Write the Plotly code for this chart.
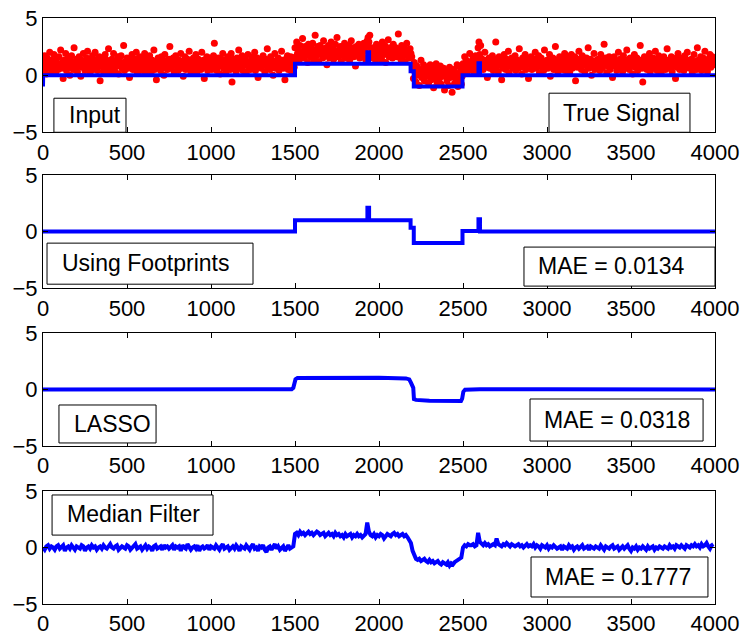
import numpy as np
import plotly.graph_objects as go

# ---------------------------------------------------------------------------
# Data
# ---------------------------------------------------------------------------
# Noisy input samples, one every INPUT_STEP samples (0 .. 3995)
INPUT_STEP = 5
input_seg_a = [  # samples 0 .. 1495
    1.2,0.4,1.7,0.9,0.1,1.5,1.1,0.6,2.0,0.8,1.3,0.3,1.0,1.8,0.7,0.2,1.4,1.0,0.5,1.6,
    0.9,2.2,0.6,1.1,-0.3,1.3,0.8,1.9,0.4,1.0,1.5,0.7,0.0,1.2,1.7,0.9,0.5,2.4,1.1,0.6,
    1.4,0.3,0.8,1.6,1.0,-0.1,1.3,0.7,1.9,1.2,0.4,0.9,1.5,2.1,0.6,1.0,0.2,1.4,0.8,1.7,
    0.5,1.1,2.0,0.7,1.3,0.4,0.9,1.6,-0.5,1.2,0.8,1.5,0.3,1.0,1.8,0.6,1.3,0.9,2.3,0.2,
    1.1,0.7,1.4,0.5,1.9,1.0,0.3,1.2,0.8,1.6,0.1,1.3,0.9,1.7,0.6,1.0,2.6,0.4,1.2,0.8,
    1.5,0.6,1.0,-0.2,1.3,0.9,1.8,0.5,1.1,0.7,1.4,2.0,0.3,1.0,0.8,1.6,0.4,1.2,0.9,1.5,
    0.7,1.9,0.2,1.1,1.4,0.6,1.0,1.7,0.8,0.3,1.3,0.9,2.2,0.5,1.2,-0.4,1.0,1.5,0.7,1.1,
    0.4,1.6,0.9,1.3,0.0,1.8,0.7,1.2,0.5,1.0,1.4,2.5,0.6,1.1,0.8,1.5,0.3,0.9,1.7,1.2,
    0.8,0.4,1.3,1.0,1.9,0.6,1.2,-0.1,0.9,1.6,0.5,1.1,1.4,0.7,2.1,1.0,0.3,1.3,0.8,1.5,
    1.1,0.6,1.8,0.2,1.0,1.4,0.8,1.2,0.5,2.0,0.9,1.3,-0.3,1.1,0.7,1.6,0.4,1.0,1.5,0.8,
    1.3,0.5,0.9,1.7,2.8,0.7,1.2,0.4,1.0,1.5,0.8,0.1,1.4,0.9,1.9,0.6,1.1,1.3,0.3,1.0,
    1.6,0.8,1.2,0.5,1.9,-0.6,1.0,1.4,0.7,1.1,0.3,1.5,0.9,2.2,0.6,1.3,0.8,1.7,0.4,1.0,
    0.9,1.4,0.2,1.1,1.8,0.7,1.2,0.5,1.0,1.6,0.8,1.3,2.0,0.4,0.9,1.5,-0.2,1.1,0.7,1.3,
    0.6,1.2,1.7,0.9,0.3,1.4,1.0,2.3,0.7,1.1,0.5,1.6,0.8,1.3,0.0,1.0,1.9,0.6,1.2,0.9,
    1.5,0.4,1.1,0.8,2.1,1.3,0.6,1.0,-0.4,1.4,0.9,1.7,0.5,1.2,0.8,1.6,0.3,1.0,1.4,0.7,
]
input_seg_b = [  # samples 1500 .. 2195
    2.4,1.6,2.9,1.9,2.2,1.3,2.6,2.0,1.7,3.2,2.1,1.5,2.5,1.8,2.3,1.1,2.7,2.0,1.6,2.4,
    1.9,2.8,1.4,2.2,3.5,1.7,2.1,2.5,1.2,2.0,2.6,1.8,2.3,1.5,3.0,2.1,1.7,2.4,0.9,2.2,
    2.6,1.5,2.0,2.9,1.8,2.3,1.4,2.1,2.7,1.9,3.3,1.6,2.2,1.8,2.5,1.2,2.0,2.4,1.7,2.8,
    1.5,2.3,2.0,1.7,2.6,1.3,2.2,3.0,1.9,2.4,1.6,2.1,0.8,2.5,1.8,2.2,2.7,1.5,2.0,1.9,
    2.3,1.6,2.8,2.1,1.4,2.5,3.0,3.3,2.9,3.5,2.4,1.8,2.0,1.5,2.4,2.1,1.3,2.7,1.9,2.3,
    1.7,2.5,2.0,1.4,2.9,2.2,1.8,2.6,1.1,2.3,2.0,3.1,1.6,2.4,1.9,2.1,1.5,2.7,2.2,1.8,
    2.4,1.6,2.1,3.6,1.9,2.3,1.4,2.6,2.0,1.7,2.5,1.2,2.2,2.8,1.8,2.0,1.5,2.3,1.9,1.6,
]
input_seg_c = [  # samples 2200 .. 2495
    0.6,-0.3,1.1,0.2,-0.6,0.8,0.0,0.4,-0.9,0.5,1.3,-0.2,0.3,0.9,-0.5,0.1,0.7,-0.1,0.4,-0.7,
    0.2,0.9,-0.4,0.0,0.6,-1.1,0.3,-0.2,1.0,-0.6,0.1,0.5,-0.3,0.8,-0.8,0.2,-0.1,0.6,-1.3,0.0,
    0.4,-0.5,0.1,-0.9,0.7,-0.2,0.3,-1.5,0.0,0.5,-0.7,0.2,-0.3,0.9,-1.0,0.1,-0.4,0.6,-0.8,-0.1,
]
input_seg_d = [  # samples 2500 .. 3995
    1.0,0.4,1.6,0.8,1.3,0.2,1.1,0.7,1.9,0.5,1.2,0.9,1.5,0.3,1.0,1.7,0.6,1.3,2.4,2.9,
    1.8,2.6,0.8,1.4,0.5,1.1,2.0,0.7,1.3,-0.2,0.9,1.5,0.6,1.2,0.8,1.7,0.4,1.0,1.4,2.9,
    0.7,1.2,0.3,1.6,0.9,1.1,-0.4,1.3,0.6,1.8,1.0,0.5,1.4,0.8,2.1,0.2,1.2,0.9,1.5,0.6,
    1.1,0.8,1.7,0.4,1.0,1.3,0.6,2.3,0.9,1.2,0.1,1.5,0.7,1.1,1.8,0.5,1.0,1.4,-0.3,1.2,
    0.9,1.6,0.5,1.1,0.8,1.4,2.0,0.6,1.3,0.9,1.7,0.2,1.0,1.5,0.7,1.2,0.4,2.2,1.1,0.8,
    1.3,0.6,1.0,1.8,-0.1,1.2,0.9,1.5,0.5,1.1,2.5,0.7,1.3,0.3,1.0,1.6,0.8,1.2,0.5,1.4,
    0.8,1.9,0.4,1.1,1.5,0.7,1.0,0.2,1.3,1.8,0.6,1.2,0.9,1.6,-0.5,1.1,0.7,1.4,2.1,0.9,
    1.2,0.5,1.7,0.9,1.3,0.3,1.0,1.5,0.8,2.4,0.6,1.1,1.4,0.0,1.2,0.8,1.9,0.5,1.0,1.3,
    0.7,1.4,1.0,0.4,1.8,1.1,0.6,1.3,2.7,0.9,1.5,0.2,1.2,0.8,1.6,0.5,1.0,1.3,-0.2,1.1,
    1.6,0.8,1.2,0.4,1.0,2.0,0.7,1.4,0.9,1.1,0.3,1.7,1.0,0.6,1.3,2.2,0.8,1.1,0.5,1.5,
    0.9,1.3,0.1,1.2,1.8,0.7,1.0,1.5,0.4,1.1,0.8,2.6,1.3,0.6,-0.6,1.0,1.6,0.9,1.2,0.5,
    1.4,0.8,1.9,0.3,1.1,1.0,1.5,0.6,1.2,2.1,0.9,0.4,1.3,1.7,0.7,1.0,0.2,1.4,0.8,1.6,
    1.1,0.5,1.3,2.3,0.9,1.2,0.6,1.0,1.6,0.3,1.4,0.8,1.1,-0.3,1.5,0.7,1.9,1.0,0.5,1.2,
    0.8,1.5,1.0,0.4,1.7,1.2,0.7,2.0,0.9,1.3,0.6,1.1,1.4,0.2,1.0,1.8,0.8,1.2,0.5,2.4,
    1.3,0.7,1.1,1.6,0.4,1.0,1.5,0.9,2.1,0.6,1.2,0.3,1.4,1.0,1.8,0.7,1.1,1.6,0.9,1.3,
]
input_values = input_seg_a + input_seg_b + input_seg_c + input_seg_d
input_x = np.arange(len(input_values)) * INPUT_STEP

# Piecewise-constant true signal (breakpoints)
true_x = [0, 1, 1500, 1500, 1931, 1931, 1941, 1941, 2188, 2188, 2207, 2207,
          2497, 2497, 2592, 2592, 2601, 2601, 4000]
true_y = [-1.0, 0.0, 0.0, 1.0, 1.0, 2.0, 2.0, 1.0, 1.0, 0.35, 0.35, -1.0,
          -1.0, 0.0, 0.0, 1.05, 1.05, 0.0, 0.0]

# Reconstruction using footprints (breakpoints)
fp_x = [0, 1500, 1500, 1931, 1931, 1941, 1941, 2188, 2188, 2207, 2207,
        2497, 2497, 2592, 2592, 2601, 2601, 4000]
fp_y = [0.0, 0.0, 1.0, 1.0, 2.1, 2.1, 1.0, 1.0, 0.35, 0.35, -1.0,
        -1.0, 0.05, 0.05, 1.1, 1.1, 0.0, 0.0]

# LASSO reconstruction
lasso_x = [0, 700, 1480, 1490, 1497, 1503, 1515, 1700, 2000, 2160, 2180, 2190,
           2197, 2204, 2208, 2220, 2300, 2488, 2495, 2502, 2512, 2600, 3000,
           3500, 4000]
lasso_y = [0.0, 0.0, 0.02, 0.15, 0.5, 0.9, 1.02, 1.05, 1.03, 0.98, 0.9, 0.6,
           0.25, 0.15, -0.85, -0.92, -1.0, -1.02, -0.8, -0.2, -0.02, 0.02, 0.03,
           -0.02, 0.0]

# Median filter output, one value every MEDIAN_STEP samples (0 .. 3990)
MEDIAN_STEP = 10
median_values = [
    0.0,-0.2,0.1,0.2,-0.1,0.1,0.0,-0.2,0.1,0.2,-0.1,0.0,0.2,-0.3,0.0,0.1,-0.1,0.2,0.0,-0.2,
    0.1,0.0,-0.1,0.2,0.1,-0.3,0.0,0.1,-0.1,0.2,0.0,0.1,-0.2,0.0,0.1,-0.1,0.2,0.0,-0.1,0.1,
    0.3,0.0,-0.1,0.1,0.2,-0.2,0.0,0.1,0.0,-0.1,0.2,0.1,-0.2,0.0,0.1,0.3,-0.1,0.0,0.1,-0.2,
    0.0,0.2,-0.1,0.1,0.0,-0.3,0.1,0.2,-0.1,0.0,0.1,-0.2,0.2,0.0,0.1,-0.1,0.0,0.2,-0.2,0.1,
    0.0,0.1,-0.3,0.2,0.0,-0.1,0.3,0.1,-0.2,0.0,0.1,-0.1,0.2,-0.3,0.0,0.1,-0.1,0.0,0.2,-0.2,
    0.1,0.0,-0.1,0.2,0.0,-0.2,0.1,0.3,-0.1,0.0,0.1,-0.2,0.0,0.1,-0.1,0.2,0.0,-0.3,0.1,0.0,
    -0.1,0.2,0.0,-0.2,0.1,0.3,-0.1,0.0,-0.3,0.1,0.0,0.2,-0.2,-0.4,0.0,0.1,-0.2,0.0,0.3,-0.1,
    0.1,-0.2,0.0,0.1,-0.3,0.0,0.2,-0.1,0.0,0.1,
    # 1500 .. 2190
    1.2,1.3,1.1,1.4,1.2,1.3,1.1,1.2,1.4,1.2,1.3,1.1,1.2,1.4,1.3,1.1,1.2,1.3,1.0,1.2,
    1.3,1.1,1.2,1.0,1.3,1.1,1.2,1.0,1.1,0.9,1.2,1.0,1.1,1.2,0.9,1.1,1.0,1.2,1.0,1.1,
    0.9,1.1,1.2,2.2,1.4,1.1,1.0,1.2,0.9,1.1,1.0,1.2,1.1,0.8,1.0,1.2,1.1,1.0,1.2,1.3,
    1.1,1.2,1.0,1.1,1.2,1.0,1.1,0.9,0.7,0.4,
    # 2200 .. 2490
    -0.3,-0.8,-1.0,-1.1,-1.0,-1.2,-1.1,-1.0,-1.2,-1.3,-1.1,-1.3,-1.2,-1.4,-1.3,
    -1.2,-1.4,-1.5,-1.3,-1.4,-1.5,-1.3,-1.6,-1.4,-1.5,-1.3,-1.2,-1.1,-1.0,-0.9,
    # 2500 .. 3990
    0.0,0.2,0.1,0.3,0.2,0.2,0.3,0.1,0.2,1.3,0.5,0.3,0.2,0.4,0.2,0.3,0.1,0.2,0.3,0.2,
    0.8,0.3,0.2,0.1,0.3,0.2,0.4,0.2,0.1,0.3,0.2,0.1,0.2,0.3,0.1,0.2,0.0,0.2,0.3,0.1,
    0.2,0.1,0.3,0.0,0.2,0.1,-0.1,0.2,0.1,0.0,0.2,-0.1,0.1,0.0,0.2,0.1,-0.1,0.0,0.1,-0.2,
    0.1,0.0,-0.1,0.2,0.0,0.1,-0.2,0.0,0.1,-0.1,0.0,0.2,-0.1,0.0,0.1,-0.2,0.1,0.0,-0.1,0.1,
    0.0,-0.1,0.2,0.0,-0.2,0.1,0.0,-0.1,0.1,0.2,-0.1,0.0,0.1,-0.2,0.0,0.1,-0.1,0.0,0.2,-0.1,
    -0.3,0.0,-0.1,0.1,-0.2,0.0,-0.1,0.1,0.0,-0.2,0.1,-0.1,0.0,0.1,-0.2,0.0,-0.1,0.1,0.0,-0.1,
    0.1,0.0,-0.1,0.2,0.0,0.1,-0.1,0.2,0.1,0.0,0.2,0.1,-0.1,0.2,0.1,0.0,0.2,0.1,0.3,0.1,
    0.2,0.0,0.3,0.1,0.2,0.4,0.1,-0.1,0.2,0.3,
]
median_x = np.arange(len(median_values)) * MEDIAN_STEP

x_ticks = [0, 500, 1000, 1500, 2000, 2500, 3000, 3500, 4000]
y_ticks = [-5, 0, 5]

# Label boxes per panel: (text, box x0, x1, y0, y1, text x, text y)
panel_boxes = [
    [("Input", 65, 494, -5.0, -2.02, 143, -3.5),
     ("True Signal", 3012, 3851, -5.0, -1.58, 3083, -3.3)],
    [("Using Footprints", 24, 1250, -4.65, -1.02, 101, -2.8),
     ("MAE = 0.0134", 2863, 4000, -4.82, -1.37, 2934, -3.0)],
    [("LASSO", 95, 673, -4.73, -1.37, 173, -3.05),
     ("MAE = 0.0318", 2899, 3929, -4.56, -0.84, 2970, -2.7)],
    [("Median Filter", 54, 1012, 1.1, 4.65, 131, 2.95),
     ("MAE = 0.1777", 2905, 3958, -4.38, -0.84, 2976, -2.6)],
]

# ---------------------------------------------------------------------------
# Figure
# ---------------------------------------------------------------------------
RED = "#ff0000"
BLUE = "#0000ff"
FONT = "Liberation Sans, Arial, Helvetica, sans-serif"

domains = [(0.805, 1.0), (0.539, 0.732), (0.2696, 0.4625), (0.0, 0.1928)]

fig = go.Figure()

fig.add_trace(go.Scatter(x=input_x, y=input_values, mode="markers",
                         marker=dict(color=RED, size=7, line=dict(width=0)),
                         xaxis="x", yaxis="y", showlegend=False))
fig.add_trace(go.Scatter(x=true_x, y=true_y, mode="lines",
                         line=dict(color=BLUE, width=4),
                         xaxis="x", yaxis="y", showlegend=False))
fig.add_trace(go.Scatter(x=fp_x, y=fp_y, mode="lines",
                         line=dict(color=BLUE, width=4),
                         xaxis="x2", yaxis="y2", showlegend=False))
fig.add_trace(go.Scatter(x=lasso_x, y=lasso_y, mode="lines",
                         line=dict(color=BLUE, width=4),
                         xaxis="x3", yaxis="y3", showlegend=False))
fig.add_trace(go.Scatter(x=median_x, y=median_values, mode="lines",
                         line=dict(color=BLUE, width=4),
                         xaxis="x4", yaxis="y4", showlegend=False))

layout = dict(
    width=741, height=635,
    margin=dict(l=43, r=26, t=18, b=31),
    paper_bgcolor="white", plot_bgcolor="white",
    font=dict(family=FONT, size=22, color="black"),
    showlegend=False,
)

axis_common = dict(showline=True, linecolor="black", linewidth=1,
                   mirror="ticks", ticks="inside", ticklen=5,
                   tickcolor="black", tickwidth=1, showgrid=False,
                   zeroline=False, automargin=False,
                   tickfont=dict(family=FONT, size=22))

shapes = []
annotations = []
for i, (d0, d1) in enumerate(domains):
    n = "" if i == 0 else str(i + 1)
    layout["xaxis" + n] = dict(axis_common, domain=[0, 1], range=[0, 4000],
                               tickvals=x_ticks, anchor="y" + n)
    layout["yaxis" + n] = dict(axis_common, domain=[d0, d1], range=[-5, 5],
                               tickvals=y_ticks, anchor="x" + n)
    for (text, bx0, bx1, by0, by1, tx, ty) in panel_boxes[i]:
        shapes.append(dict(type="rect", xref="x" + n, yref="y" + n,
                           x0=bx0, x1=bx1, y0=by0, y1=by1,
                           line=dict(color="black", width=1),
                           fillcolor="white", layer="above"))
        annotations.append(dict(text=text, xref="x" + n, yref="y" + n,
                                x=tx, y=ty, xanchor="left", yanchor="middle",
                                showarrow=False,
                                font=dict(family=FONT, size=23, color="black")))

layout["shapes"] = shapes
layout["annotations"] = annotations
fig.update_layout(**layout)

fig.write_html("out.html")
